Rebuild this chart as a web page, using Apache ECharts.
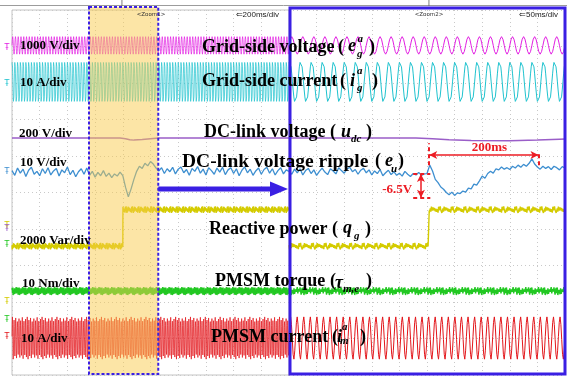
<!DOCTYPE html>
<html>
<head>
<meta charset="utf-8">
<script src="https://cdn.jsdelivr.net/npm/echarts@6.0.0/dist/echarts.min.js"></script>
<style>
html,body{margin:0;padding:0;background:#ffffff;}
#chart{width:567px;height:379px;}
</style>
</head>
<body>
<div id="chart"></div>
<script>
// ===================== DATA =====================
const panelSpanMs = [2000, 500];          // overview (200 ms/div) and zoom (50 ms/div)
const panelTimeDivMs = [200, 50];
const panelHeaders = ['\u21D0200ms/div', '\u21D050ms/div'];
const panelZoomTags = ['<Zoom1>', '<Zoom2>'];
const zoomWindowMs = [556, 1056];          // window of the overview shown in the zoom

const channelNames     = ['eg', 'ig', 'udc', 'eu', 'qg', 'tm', 'im'];
const channelPerDiv    = [1000, 10, 200, 10, 2000, 10, 10];
const channelRef       = [0, 0, 650, 0, 0, 0, 0];
const channelDivLabels = ['1000 V/div', '10 A/div', '200 V/div', '10 V/div', '2000 Var/div', '10 Nm/div', '10 A/div'];

// one period of the sinusoidal traces (unit amplitude)
const sineCycle = [0, 0.38, 0.71, 0.92, 1, 0.92, 0.71, 0.38, 0, -0.38, -0.71, -0.92, -1, -0.92, -0.71, -0.38];
const pmsmCycle = [0.08, 0.72, 0.97, 0.62, -0.06, -0.74, -0.96, -0.58];
// peak scale of successive PMSM periods as drawn in the compressed overview (sampling aliasing)
const overviewPeakScale = [1, 0.85, 0.95, 0.78, 0.92, 0.82, 0.98, 0.8, 0.9];
const gridVoltagePeakV = 240;
const gridCurrentPeakA = 5.8;
const pmsmCurrentPeakA = 6.0;
const gridCyclesPer500ms = 25;
const pmsmCyclesPer500ms = 42;

// DC-link voltage (purple)
const udcLeftMs  = [0, 780, 820, 850, 880, 940, 1000, 1060, 2000];
const udcLeftV   = [650, 650, 647, 641, 639, 642, 646, 650, 650];
const udcRightMs = [0, 230, 260, 290, 330, 400, 450, 490, 500];
const udcRightV  = [650, 650, 647, 641, 637, 636, 639, 644, 645];

// DC-link voltage ripple (blue), volts
const rippleLeftStepMs = 20;
const rippleLeftV = [
  0.4,-0.9,1.1,-0.3,0.8,-1.2,0.5,1.3,-0.6,0.2,
  -1.0,0.9,-0.4,1.2,-0.8,0.3,1.0,-1.1,0.6,-0.2,
  1.4,-0.7,0.5,-1.3,0.1,0.9,-0.6,1.1,-0.9,0.2,
  -1.4,-0.1,-1.0,0.4,-1.2,-0.3,-1.5,-0.5,-1.1,0.0,
  -1.0,-4.2,-6.8,-4.6,-2.0,0.2,1.6,1.0,2.4,1.7,
  2.9,2.2,1.1,0.3,1.2,-0.4,0.9,0.1,1.3,-0.5,
  0.8,1.4,-0.2,0.7,-0.9,1.0,0.2,1.5,-0.3,0.8,
  -0.8,1.2,0.4,-0.6,1.1,0.0,1.3,-0.7,0.6,1.2,
  -0.4,0.9,-1.0,0.5,1.4,-0.2,0.8,-0.9,0.3,1.1,
  -0.6,0.7,1.3,-0.3,0.9,-0.8,0.4,1.2,-0.5,0.6,
  0.2];
const rippleRightStepMs = 5;
const rippleRightV = [
  0.3,-0.6,0.8,-0.2,0.9,-0.8,0.4,1.0,-0.4,0.6,
  -0.9,0.2,1.1,0.0,-0.7,0.9,0.3,-0.5,1.2,0.4,
  -0.3,0.8,1.3,0.1,0.7,-0.6,0.5,1.0,-0.2,0.6,
  -0.8,0.3,-0.4,0.7,-1.0,-0.2,0.5,-0.7,0.1,-0.9,
  -0.3,-1.1,0.2,-0.6,-1.2,-0.4,-0.8,-0.1,-0.9,-0.5,
  -0.4,1.9,0.3,-2.0,-2.9,-4.1,-4.7,-5.6,-6.2,-5.5,
  -6.4,-5.7,-5.9,-5.2,-5.5,-4.4,-4.6,-3.3,-3.6,-2.4,
  -1.1,-1.7,-0.4,0.2,-0.3,0.9,0.6,1.4,0.8,1.2,
  0.7,1.6,1.1,1.9,1.3,2.1,1.6,2.4,3.6,2.2,
  1.4,0.8,1.6,1.0,1.5,0.7,1.6,1.2,0.6,1.5,
  1.1];

// reactive power (yellow) and torque (green)
const qgLowVar = 0, qgHighVar = 2000;
const qgStepMs = [801, 254];
const qgNoiseVar = 180;
const torqueLevelNm = 0;
const torqueNoiseNm = 1.1;
const traceJitter = [0.3,-0.7,0.9,-0.2,0.5,-1.0,0.1,0.8,-0.4,0.6,-0.8,0.2,-0.3,1.0,-0.5,0.4,-0.9,0.7,-0.1,0.3,-0.6,0.9,-0.2];

// annotations on the zoomed ripple
const dipStartMs = 253, dipSpanMs = 200, dipDepthV = -6.5, preDipV = -0.55;
const dipSpanText = '200ms', dipDepthText = '-6.5V';

// ===================== LAYOUT / STYLE =====================
const PANELS = [{left: 12, width: 277}, {left: 289, width: 276}];
const PLOT_TOP = 10, PLOT_H = 365, DIVS = 10;
const channelOffsetDiv = [9.03, 8.03, 6.49, 5.56, 3.53, 2.30, 1.01];
const channelColors = ['#e21de2', '#1fc3cf', '#9a5ec8', '#3e8fd0', '#d4cb00', '#22c822', '#e3161b'];
const BLUE = '#3a1fe3', RED = '#ec1c24';
const SERIF = '"Liberation Serif", "Times New Roman", serif';

// ===================== BUILDERS =====================
const L = traceJitter.length;
function tileCycle(cycle, cycles, spanMs, peak, ref, phase, peakScale) {
  const n = cycle.length * cycles, out = [];
  for (let i = 0; i <= n; i++) {
    const cyc = Math.floor(i / cycle.length);
    const s = peakScale ? peakScale[cyc % peakScale.length] : 1;
    out.push([i * spanMs / n, ref + peak * s * cycle[(i + (phase || 0)) % cycle.length]]);
  }
  return out;
}
function pairs(ms, vals) { return ms.map((t, i) => [t, vals[i]]); }
function stepped(stepMs, vals) { return vals.map((v, i) => [i * stepMs, v]); }
function stepTrace(spanMs, dt, stepAt, low, high, noise) {
  const out = [], n = Math.round(spanMs / dt);
  for (let i = 0; i <= n; i++) {
    const t = i * dt;
    if (i > 0 && (i - 1) * dt < stepAt && t >= stepAt) {
      out.push([stepAt, low + noise * traceJitter[(i + 5) % L]]);
      out.push([stepAt, high + noise * traceJitter[(i + 11) % L]]);
    }
    out.push([t, (t < stepAt ? low : high) + noise * traceJitter[(i * 5) % L]]);
  }
  return out;
}
function flatTrace(spanMs, dt, level, noise) {
  const out = [], n = Math.round(spanMs / dt);
  for (let i = 0; i <= n; i++) out.push([i * dt, level + noise * traceJitter[(i * 7) % L]]);
  return out;
}

const grids = [], xAxes = [], yAxes = [], series = [];
const yIdx = (p, c) => p * 8 + 1 + c;
const dotted = {show: true, lineStyle: {color: '#c9c9c9', width: 1, type: [1, 3]}};
const hidden = {axisLine: {show: false}, axisTick: {show: false}, axisLabel: {show: false}};

PANELS.forEach((pl, p) => {
  grids.push({left: pl.left, top: PLOT_TOP, width: pl.width, height: PLOT_H, containLabel: false, outerBoundsMode: 'none',
    show: p === 0, borderColor: '#c4c4c4', borderWidth: 1, backgroundColor: 'transparent'});
  xAxes.push(Object.assign({type: 'value', gridIndex: p, min: 0, max: panelSpanMs[p], interval: panelTimeDivMs[p], splitLine: dotted}, hidden));
  yAxes.push(Object.assign({type: 'value', gridIndex: p, min: 0, max: DIVS, interval: 1, splitLine: dotted}, hidden));
  channelNames.forEach((n, c) => {
    yAxes.push({type: 'value', gridIndex: p, show: false, splitLine: {show: false},
      min: channelRef[c] - channelOffsetDiv[c] * channelPerDiv[c],
      max: channelRef[c] + (DIVS - channelOffsetDiv[c]) * channelPerDiv[c]});
  });
});

function line(p, c, data, lineExtra) {
  return {
    type: 'line', name: channelNames[c] + p, xAxisIndex: p, yAxisIndex: yIdx(p, c), data: data,
    showSymbol: false, symbol: 'none', animation: false, silent: true, clip: true,
    lineStyle: Object.assign({color: channelColors[c], width: 1}, lineExtra || {}),
    itemStyle: {color: channelColors[c]}, emphasis: {disabled: true}
  };
}

for (let p = 0; p < 2; p++) {
  const span = panelSpanMs[p];
  const k = span / 500;
  const ov = p === 0;
  const dense = ov ? {opacity: 0.7} : {};
  series.push(line(p, 0, tileCycle(sineCycle, gridCyclesPer500ms * k, span, gridVoltagePeakV, channelRef[0], 0), dense));
  series.push(line(p, 1, tileCycle(sineCycle, gridCyclesPer500ms * k, span, gridCurrentPeakA, channelRef[1], 3), dense));
  series.push(line(p, 2, ov ? pairs(udcLeftMs, udcLeftV) : pairs(udcRightMs, udcRightV), {width: 1.5}));
  series.push(line(p, 4, stepTrace(span, ov ? 2 : 1, qgStepMs[p], qgLowVar, qgHighVar, qgNoiseVar), {width: 1.4}));
  series.push(line(p, 5, flatTrace(span, ov ? 2 : 1, torqueLevelNm, torqueNoiseNm), {width: 1.4}));
  series.push(line(p, 6, tileCycle(pmsmCycle, pmsmCyclesPer500ms * k, span, pmsmCurrentPeakA, channelRef[6], 0, ov ? overviewPeakScale : null), ov ? {opacity: 0.7} : {}));
  const ripple = line(p, 3, ov ? stepped(rippleLeftStepMs, rippleLeftV) : stepped(rippleRightStepMs, rippleRightV), {width: 1.3});
  if (!ov) {
    const arrowEnd = {symbol: 'arrow', symbolSize: [6, 8]};
    ripple.markLine = {
      silent: true, animation: false, symbol: 'none', label: {show: false}, emphasis: {disabled: true},
      lineStyle: {color: RED, width: 2, type: [4, 3], opacity: 1},
      data: [
        [{coord: [dipStartMs, 1.9]}, {coord: [dipStartMs, 7.9]}],
        [{coord: [dipStartMs + dipSpanMs, 1.9]}, {coord: [dipStartMs + dipSpanMs, 5.5]}],
        [{coord: [225, preDipV]}, {coord: [256, preDipV]}],
        [{coord: [225, preDipV + dipDepthV]}, {coord: [256, preDipV + dipDepthV]}],
        [Object.assign({coord: [dipStartMs + 1, 4.7], lineStyle: {type: 'solid', width: 1.5, color: RED}}, arrowEnd),
         Object.assign({coord: [dipStartMs + dipSpanMs - 1, 4.7]}, arrowEnd)],
        [Object.assign({coord: [239, preDipV], lineStyle: {type: 'solid', width: 1.5, color: RED}}, arrowEnd),
         Object.assign({coord: [239, preDipV + dipDepthV]}, arrowEnd)]
      ]
    };
  }
  series.push(ripple);
}

const chart = echarts.init(document.getElementById('chart'), null, {renderer: 'canvas', width: 567, height: 379});
chart.setOption({
  animation: false,
  backgroundColor: '#ffffff',
  grid: grids, xAxis: xAxes, yAxis: yAxes, series: series,
  tooltip: {show: false}
});

// ===================== GRAPHICS (frames, labels, annotations) =====================
const px = (p, c, t, v) => chart.convertToPixel({xAxisIndex: p, yAxisIndex: yIdx(p, c)}, [t, v]);
const zx0 = px(0, 0, zoomWindowMs[0], 0)[0];
const zx1 = px(0, 0, zoomWindowMs[1], 0)[0];

const g = [];
function txt(text, x, y, size, opts) {
  opts = opts || {};
  g.push({type: 'text', x: x, y: y, z: 100, silent: true,
    style: {text: text, fontSize: size, fontFamily: opts.family || SERIF, fontWeight: opts.weight || 'bold',
      fontStyle: opts.italic ? 'italic' : 'normal', fill: opts.color || '#000', align: opts.align || 'left',
      verticalAlign: 'middle'}});
}

g.push({type: 'line', z: 1, silent: true, shape: {x1: 0, y1: 5.5, x2: 567, y2: 5.5}, style: {stroke: '#9c9c9c', lineWidth: 1}});
// zoom window highlight (on top of traces, translucent)
g.push({type: 'rect', z: 50, silent: true, shape: {x: zx0, y: 7, width: zx1 - zx0, height: 367},
  style: {fill: 'rgba(250,204,78,0.5)', stroke: BLUE, lineWidth: 2, lineDash: [3, 2]}});
// zoom panel frame
g.push({type: 'rect', z: 60, silent: true, shape: {x: 290, y: 8, width: 275, height: 366}, style: {fill: 'none', stroke: BLUE, lineWidth: 3}});
// blue arrow
g.push({type: 'line', z: 60, silent: true, shape: {x1: zx1, y1: 189, x2: 272, y2: 189}, style: {stroke: BLUE, lineWidth: 5}});
g.push({type: 'polygon', z: 60, silent: true, shape: {points: [[270, 181.5], [288, 189], [270, 196.5]]}, style: {fill: BLUE}});

// header texts
txt('T', 122, 4, 8, {family: 'DejaVu Sans', weight: 'normal', color: '#666', align: 'center'});
txt('T', 429, 4, 8, {family: 'DejaVu Sans', weight: 'normal', color: '#666', align: 'center'});
txt(panelZoomTags[0], 151, 15, 5.5, {family: 'DejaVu Sans', weight: 'normal', color: '#333', align: 'center'});
txt(panelZoomTags[1], 429, 15, 5.5, {family: 'DejaVu Sans', weight: 'normal', color: '#333', align: 'center'});
txt(panelHeaders[0], 279, 15, 8, {family: 'Liberation Sans', weight: 'normal', color: '#222', align: 'right'});
txt(panelHeaders[1], 558, 15, 8, {family: 'Liberation Sans', weight: 'normal', color: '#222', align: 'right'});

// channel markers on the left edge
[[channelColors[0], 48], [channelColors[1], 84], [channelColors[3], 172], [channelColors[4], 226], [channelColors[2], 229],
 [channelColors[5], 245], [channelColors[4], 302], [channelColors[5], 320], [channelColors[6], 337]].forEach(m => {
  txt('\u0166', 7, m[1], 8, {family: 'DejaVu Sans', weight: 'normal', color: m[0], align: 'center'});
});

// per-division labels
const divLabelPos = [[20, 45.5], [20, 83], [19, 133.5], [20, 163], [20, 240.5], [22, 283.5], [21, 339]];
channelDivLabels.forEach((t, i) => txt(t, divLabelPos[i][0], divLabelPos[i][1], 13));

// signal names with symbols
const S = 11;
function name(parts) {
  parts.forEach(pt => {
    const kind = pt[3], size = pt[4] || 18;
    if (kind === 'b') txt(pt[0], pt[1], pt[2], size);
    else if (kind === 'm') txt(pt[0], pt[1], pt[2], size, {italic: true});
    else txt(pt[0], pt[1], pt[2], S, {italic: true});
  });
}
name([['Grid-side voltage', 202, 47.6, 'b'], ['(', 338, 47.6, 'b'], ['e', 348, 46.5, 'm'], ['a', 357.5, 38.7, 's'], ['g', 357, 54, 's'], [')', 369, 47.6, 'b']]);
name([['Grid-side current', 202, 81.6, 'b'], ['(', 340, 81.6, 'b'], ['i', 350, 81, 'm'], ['a', 357, 70.7, 's'], ['g', 357, 88, 's'], [')', 372, 81.6, 'b']]);
name([['DC-link voltage', 204, 132.6, 'b'], ['(', 330, 132.6, 'b'], ['u', 341, 132, 'm'], ['dc', 351, 138.7, 's'], [')', 366, 132.6, 'b']]);
name([['DC-link voltage ripple', 182, 161.6, 'b', 19.5], ['(', 375, 161.6, 'b'], ['e', 385, 161, 'm'], ['u', 391, 168.7, 's'], [')', 398, 161.6, 'b']]);
name([['Reactive power', 209, 229.6, 'b'], ['(', 332, 229.6, 'b'], ['q', 343, 228.5, 'm'], ['g', 354, 235.7, 's'], [')', 365, 229.6, 'b']]);
name([['PMSM torque', 215, 281.6, 'b'], ['(', 330, 281.6, 'b'], ['\u03C4', 335, 283, 'm'], ['m,e', 343, 288.7, 's'], [')', 366, 281.6, 'b']]);
name([['PMSM current', 211, 337.6, 'b'], ['(', 332, 337.6, 'b'], ['i', 337, 337, 'm'], ['a', 342, 326.7, 's'], ['m', 340, 341.5, 's'], [')', 360, 337.6, 'b']]);

// red annotation texts, placed through the zoom panel scales
const spanPos = px(1, 3, dipStartMs + dipSpanMs / 2 + 10, 6.6);
txt(dipSpanText, spanPos[0], spanPos[1], 13, {color: RED, align: 'center'});
const depthPos = px(1, 3, 223, -4.7);
txt(dipDepthText, depthPos[0], depthPos[1], 13, {color: RED, align: 'right'});

chart.setOption({graphic: {elements: g}});
</script>
</body>
</html>
